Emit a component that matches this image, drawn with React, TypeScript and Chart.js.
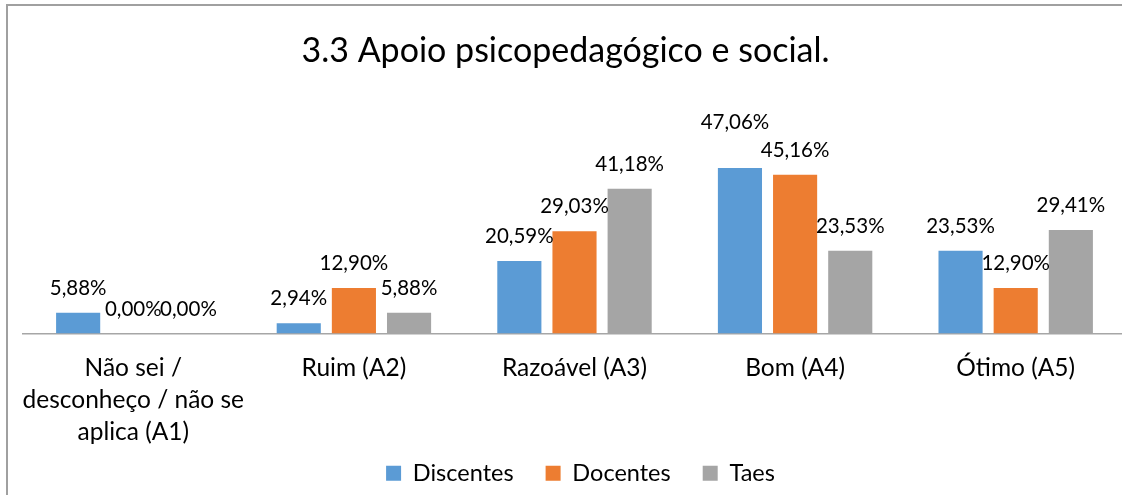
import React, { useEffect, useRef } from 'react';
import { Chart, registerables } from 'chart.js';

Chart.register(...registerables);

const categories: (string | string[])[] = [
  ['Não sei /', 'desconheço / não se', 'aplica (A1)'],
  'Ruim (A2)',
  'Razoável (A3)',
  'Bom (A4)',
  'Ótimo (A5)',
];
const seriesNames = ['Discentes', 'Docentes', 'Taes'];
const discentes = [5.88, 2.94, 20.59, 47.06, 23.53];
const docentes = [0.0, 12.9, 29.03, 45.16, 12.9];
const taes = [0.0, 5.88, 41.18, 23.53, 29.41];
const titleText = '3.3 Apoio psicopedagógico e social.';

const colors = ['#5B9BD5', '#ED7D31', '#A5A5A5'];
const FONT = 'Lato';
const LABEL_SIZE = 20.5;
// manual label shifts (dataset-index) as in the reference
const labelShift: Record<string, [number, number]> = { '0-3': [-5, -21] };

const fmt = (v: number) => v.toFixed(2).replace('.', ',') + '%';

const valueLabels = {
  id: 'valueLabels',
  afterDatasetsDraw(chart: any) {
    const ctx = chart.ctx;
    ctx.save();
    ctx.font = `${LABEL_SIZE}px ${FONT}`;
    ctx.fillStyle = '#000';
    ctx.textAlign = 'center';
    ctx.textBaseline = 'middle';
    chart.data.datasets.forEach((ds: any, di: number) => {
      const meta = chart.getDatasetMeta(di);
      meta.data.forEach((el: any, i: number) => {
        const [dx, dy] = labelShift[`${di}-${i}`] || [0, 0];
        ctx.fillText(fmt(ds.data[i]), el.x + dx, el.y - 24.5 + dy);
      });
    });
    ctx.restore();
  },
};

// nudge title / legend boxes after layout to match the reference placement
const nudge = {
  id: 'nudge',
  afterLayout(chart: any) {
    const t = chart.titleBlock;
    if (t) {
      t.left -= 9;
      t.right -= 9;
    }
    const l = chart.legend;
    if (l) {
      l.top -= 19;
      l.left += 6;
      l.right += 6;
    }
  },
};

export default function App() {
  const ref = useRef<HTMLCanvasElement | null>(null);
  useEffect(() => {
    if (!ref.current) return;
    const chart = new Chart(ref.current, {
      type: 'bar',
      data: {
        labels: categories as any,
        datasets: [discentes, docentes, taes].map((d, i) => ({
          label: seriesNames[i],
          data: d,
          backgroundColor: colors[i],
          borderWidth: 0,
          categoryPercentage: 0.75,
          barPercentage: 0.8,
        })),
      },
      options: {
        animation: false,
        responsive: true,
        maintainAspectRatio: false,
        devicePixelRatio: 1,
        layout: { padding: { left: 23, right: 4, top: 0, bottom: 0 } },
        plugins: {
          title: {
            display: true,
            text: titleText,
            color: '#000',
            font: { family: FONT, size: 34, weight: 'normal' as any, lineHeight: 1.2 },
            padding: { top: 31, bottom: 85.8 },
          },
          legend: {
            position: 'bottom',
            maxHeight: 46.5,
            labels: {
              boxWidth: 15,
              boxHeight: 15,
              color: '#000',
              padding: 32,
              font: { family: FONT, size: 23.5, lineHeight: 1.2 },
            },
          },
          tooltip: { enabled: false },
        },
        scales: {
          x: {
            grid: { display: false },
            border: { display: true, color: '#A6A6A6', width: 1.5 },
            ticks: {
              color: '#000',
              padding: 11,
              maxRotation: 0,
              autoSkip: false,
              font: { family: FONT, size: 24.5, lineHeight: 1.3 },
            },
            afterFit: (scale: any) => {
              scale.height = 115;
            },
          },
          y: { display: false, min: 0, max: 50 },
        },
      },
      plugins: [valueLabels, nudge],
    });
    return () => chart.destroy();
  }, []);

  return (
    <div style={{ position: 'fixed', left: 0, top: 0, width: 1122, height: 495, overflow: 'hidden', background: '#fff' }}>
      <div
        style={{
          position: 'absolute',
          left: 6,
          top: 4,
          width: 1200,
          height: 600,
          borderTop: '2px solid #A0A0A0',
          borderLeft: '2px solid #A0A0A0',
        }}
      />
      <div style={{ position: 'absolute', left: 0, top: 0, width: 1130, height: 495 }}>
        <canvas ref={ref} />
      </div>
    </div>
  );
}
